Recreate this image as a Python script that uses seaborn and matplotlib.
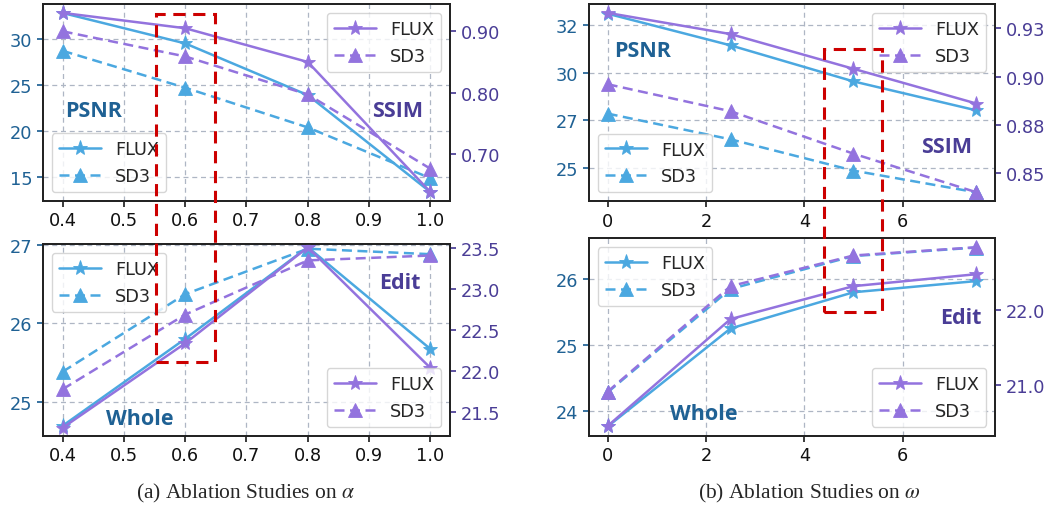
import matplotlib
matplotlib.use("Agg")
import matplotlib.pyplot as plt
import matplotlib.transforms as mtransforms
from matplotlib.patches import Rectangle
import seaborn as sns

# ---------------- data ----------------
alpha = [0.4, 0.6, 0.8, 1.0]
psnr_flux_a = [32.8, 29.5, 23.9, 13.4]
psnr_sd3_a = [28.7, 24.7, 20.4, 14.9]
ssim_flux_a = [0.930, 0.905, 0.850, 0.638]
ssim_sd3_a = [0.900, 0.859, 0.797, 0.676]
whole_flux_a = [24.69, 25.80, 26.97, 25.67]
whole_sd3_a = [25.38, 26.37, 26.95, 26.88]
edit_flux_a = [21.31, 22.34, 23.51, 22.04]
edit_sd3_a = [21.78, 22.69, 23.35, 23.41]

omega = [0, 2.5, 5, 7.5]
psnr_flux_w = [33.09, 31.43, 29.54, 28.02]
psnr_sd3_w = [27.85, 26.50, 24.86, 23.72]
ssim_flux_w = [0.933, 0.922, 0.904, 0.886]
ssim_sd3_w = [0.896, 0.882, 0.860, 0.840]
whole_flux_w = [23.76, 25.25, 25.80, 25.97]
whole_sd3_w = [24.28, 25.85, 26.35, 26.48]
edit_flux_w = [20.45, 21.88, 22.32, 22.48]
edit_sd3_w = [20.91, 22.32, 22.73, 22.84]

xticks_a = [0.4, 0.5, 0.6, 0.7, 0.8, 0.9, 1.0]
xticks_w = [0, 2, 4, 6]

series_names = ["FLUX", "SD3"]
captions = [r"(a) Ablation Studies on $\alpha$", r"(b) Ablation Studies on $\omega$"]

# ---------------- style ----------------
sns.set_theme(style="ticks")
plt.rcParams["font.family"] = ["DejaVu Sans"]
plt.rcParams["mathtext.fontset"] = "stix"

BLUE = "#4BA8E0"
PURPLE = "#9373DE"
BLUE_TXT = "#1F6194"
PURPLE_TXT = "#4A3D96"
RED = "#CC0000"
TICK_FS = 12.8
LEG_FS = 12.7
LBL_FS = 15.5

fig = plt.figure(figsize=(10.55, 5.06), dpi=100)

# axes rectangles in pixels: (left, top, right, bottom)
W, H = 1055, 506
boxes = {
    "tl": (43, 5, 450, 202),
    "bl": (43, 245, 450, 437),
    "tr": (589, 5, 995, 202.3),
    "br": (589, 239.3, 995, 436.7),
}


def make_ax(key):
    l, t, r, b = boxes[key]
    return fig.add_axes([l / W, 1 - b / H, (r - l) / W, (b - t) / H])


def style_axes(ax, ax2):
    for a in (ax, ax2):
        for s in a.spines.values():
            s.set_color("#222222")
            s.set_linewidth(1.3)
    ax.grid(True, linestyle=(0, (4, 3)), color="#AEB6C4", linewidth=0.9)
    ax2.grid(False)
    ax.tick_params(axis="x", labelsize=TICK_FS, colors="#222222", length=4, labelcolor="#111111")
    ax.tick_params(axis="y", labelsize=TICK_FS, colors=BLUE_TXT, length=4)
    ax2.tick_params(axis="y", labelsize=TICK_FS, colors=PURPLE_TXT, length=4)


def draw(ax, x, flux, sd3, color):
    sns.lineplot(x=x, y=flux, ax=ax, color=color, marker="*", markersize=11,
                 markeredgecolor=color, markeredgewidth=0.6, linewidth=1.8,
                 label=series_names[0], legend=False)
    sns.lineplot(x=x, y=sd3, ax=ax, color=color, marker="^", markersize=10,
                 markeredgecolor=color, markeredgewidth=0.6, linewidth=1.8,
                 linestyle=(0, (4, 2.2)), label=series_names[1], legend=False)


def panel(key, x, xt, xlim, lf, ls, rf, rs, lticks, llabels, lylim,
          rticks, rlabels, rylim, lleg, rleg, ltxt, rtxt):
    ax = make_ax(key)
    ax2 = ax.twinx()
    draw(ax, x, lf, ls, BLUE)
    draw(ax2, x, rf, rs, PURPLE)
    ax.set_xticks(xt)
    ax.set_xticklabels([f"{v:g}" if isinstance(v, int) else f"{v:.1f}" for v in xt])
    ax.set_xlim(*xlim)
    ax.set_yticks(lticks)
    ax.set_yticklabels(llabels)
    ax.set_ylim(*lylim)
    ax2.set_yticks(rticks)
    ax2.set_yticklabels(rlabels)
    ax2.set_ylim(*rylim)
    style_axes(ax, ax2)
    ax.set_xlabel("")
    ax.set_ylabel("")
    ax2.set_ylabel("")
    ax.legend(loc=lleg, fontsize=LEG_FS, framealpha=0.8, edgecolor="#CCCCCC",
              fancybox=True, handlelength=2.4)
    ax2.legend(loc=rleg, fontsize=LEG_FS, framealpha=0.8, edgecolor="#CCCCCC",
               fancybox=True, handlelength=2.4)
    ax.text(ltxt[1], ltxt[2], ltxt[0], transform=ax.transAxes, fontsize=LBL_FS,
            fontweight="bold", color=BLUE_TXT, family="Open Sans", ha="left", va="center")
    ax2.text(rtxt[1], rtxt[2], rtxt[0], transform=ax2.transAxes, fontsize=LBL_FS,
             fontweight="bold", color=PURPLE_TXT, family="Open Sans", ha="left", va="center")
    return ax, ax2


ax_tl, _ = panel("tl", alpha, xticks_a, (0.368, 1.032), psnr_flux_a, psnr_sd3_a,
                 ssim_flux_a, ssim_sd3_a,
                 [15, 20, 25, 30], ["15", "20", "25", "30"], (12.43, 33.77),
                 [0.70, 0.80, 0.90], ["0.70", "0.80", "0.90"], (0.6234, 0.9445),
                 "lower left", "upper right", ("PSNR", 0.055, 0.46), ("SSIM", 0.808, 0.46))

ax_bl, _ = panel("bl", alpha, xticks_a, (0.368, 1.032), whole_flux_a, whole_sd3_a,
                 edit_flux_a, edit_sd3_a,
                 [25, 26, 27], ["25", "26", "27"], (24.56, 27.01),
                 [21.5, 22.0, 22.5, 23.0, 23.5], ["21.5", "22.0", "22.5", "23.0", "23.5"], (21.21, 23.55),
                 "upper left", "lower right", ("Whole", 0.155, 0.09), ("Edit", 0.826, 0.80))

ax_tr, _ = panel("tr", omega, xticks_w, (-0.38, 7.88), psnr_flux_w, psnr_sd3_w,
                 ssim_flux_w, ssim_sd3_w,
                 [25, 27.5, 30, 32.5], ["25", "27", "30", "32"], (23.25, 33.6),
                 [0.85, 0.875, 0.90, 0.925], ["0.85", "0.88", "0.90", "0.93"], (0.8353, 0.9376),
                 "lower left", "upper right", ("PSNR", 0.062, 0.765), ("SSIM", 0.818, 0.28))

ax_br, _ = panel("br", omega, xticks_w, (-0.38, 7.88), whole_flux_w, whole_sd3_w,
                 edit_flux_w, edit_sd3_w,
                 [24, 25, 26], ["24", "25", "26"], (23.62, 26.62),
                 [21.0, 22.0], ["21.0", "22.0"], (20.32, 22.96),
                 "upper left", "lower right", ("Whole", 0.2, 0.11), ("Edit", 0.866, 0.60))

# ---------------- red dashed highlight boxes ----------------
def red_box(ax, x0, x1, y0_px, y1_px):
    tr = mtransforms.blended_transform_factory(ax.transData, fig.transFigure)
    y0 = 1 - y1_px / H
    y1 = 1 - y0_px / H
    rect = Rectangle((x0, y0), x1 - x0, y1 - y0, transform=tr, fill=False,
                     edgecolor=RED, linewidth=2.2, linestyle=(0, (4, 2.5)),
                     clip_on=False, zorder=20)
    fig.add_artist(rect)

red_box(ax_tl, 0.553, 0.648, 15, 363.3)
red_box(ax_tr, 4.40, 5.59, 50, 313.3)

# ---------------- captions ----------------
fig.text(245.5 / W, 1 - 493.3 / H, captions[0], ha="center", va="center",
         fontsize=15.5, family="Liberation Serif")
fig.text(809 / W, 1 - 493.3 / H, captions[1], ha="center", va="center",
         fontsize=15.5, family="Liberation Serif")

fig.savefig("out.png", dpi=100)
